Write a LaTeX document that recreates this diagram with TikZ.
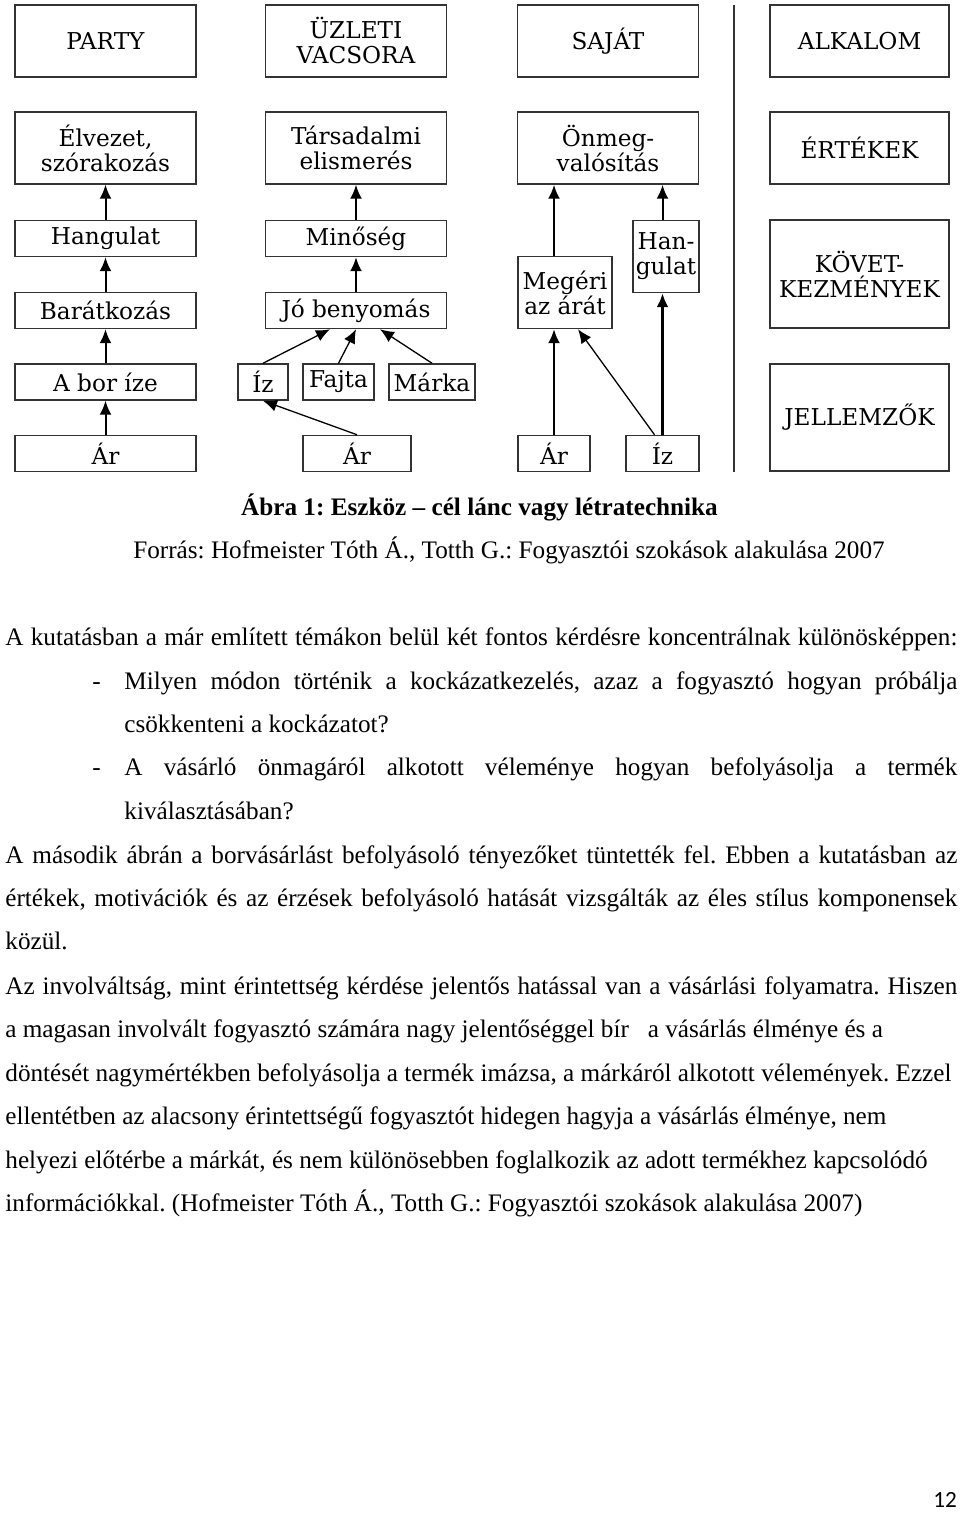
\documentclass[tikz,border=0pt]{standalone}
\usepackage{fontspec}
\setmainfont{Liberation Serif}
\newfontfamily\abrabetu{DejaVu Serif}
\newfontfamily\oldalbetu{Carlito}
\usetikzlibrary{arrows.meta}
\frenchspacing
\newcommand{\szoveg}{\fontsize{12.6}{21.75}\selectfont}
\newcommand{\teljes}[1]{\makebox[476pt][s]{#1}}
\newcommand{\behuzott}[1]{\makebox[416.5pt][s]{#1}}

\begin{document}
\begin{tikzpicture}[x=.5pt, y=-.5pt,
  doboz/.style={draw=black!80, line width=.75pt, inner sep=0pt, align=center, font=\fontsize{11.6}{12.5}\selectfont\abrabetu},
  nagy/.style={doboz, minimum width=90.5pt, minimum height=36pt},
  kozep/.style={doboz, minimum width=90.5pt, minimum height=18pt},
  nyil/.style={-{Latex[length=7pt,width=6pt]}, line width=1pt},
  vnyil/.style={-{Latex[length=7pt,width=6pt]}, line width=.65pt},
  sor/.style={inner sep=0pt, font=\szoveg, anchor=base west}]
  \useasboundingbox (0,0) rectangle (960,1513);
  % party
  \node[nagy] (party) at (105.5,41) {PARTY};
  \node[nagy] (elvezet) at (105.5,148) {Élvezet,\\szórakozás};
  \node[kozep] (hangulat) at (105.5,238.5) {Hangulat};
  \node[kozep] (barat) at (105.5,310.5) {Barátkozás};
  \node[kozep] (borize) at (105.5,382) {A bor íze};
  \node[kozep] (arA) at (105.5,453.5) {Ár};
  % uzleti vacsora
  \node[nagy] (uzleti) at (356,41) {ÜZLETI\\VACSORA};
  \node[nagy] (tarsad) at (356,148) {Társadalmi\\elismerés};
  \node[kozep] (minoseg) at (356,238.5) {Minőség};
  \node[kozep] (jobeny) at (356,310.5) {Jó benyomás};
  \node[doboz, minimum width=25pt, minimum height=18pt] (izB) at (263,382) {Íz};
  \node[doboz, minimum width=35.5pt, minimum height=18pt] (fajta) at (338.5,382) {Fajta};
  \node[doboz, minimum width=43pt, minimum height=18pt] (marka) at (432,382) {Márka};
  \node[doboz, minimum width=54pt, minimum height=18pt] (arB) at (357,453.5) {Ár};
  % sajat
  \node[nagy] (sajat) at (608,41) {SAJÁT};
  \node[nagy] (onmeg) at (608,148) {Önmeg-\\valósítás};
  \node[doboz, minimum width=47pt, minimum height=36pt] (megeri) at (565,292.5) {Megéri\\az árát};
  \node[doboz, minimum width=33pt, minimum height=36pt] (hangC) at (666,256.5) {Han-\\gulat};
  \node[doboz, minimum width=36pt, minimum height=18pt] (arC) at (554,453.5) {Ár};
  \node[doboz, minimum width=36.5pt, minimum height=18pt] (izC) at (662.5,453.5) {Íz};
  % szintek
  \node[nagy, minimum width=89.5pt] (alkalom) at (859.5,41) {ALKALOM};
  \node[nagy, minimum width=89.5pt] (ertekek) at (859.5,148) {ÉRTÉKEK};
  \node[doboz, minimum width=89.5pt, minimum height=54pt] (kovet) at (859.5,274) {KÖVET-\\KEZMÉNYEK};
  \node[doboz, minimum width=89.5pt, minimum height=53.5pt] (jellem) at (859.5,417.5) {JELLEMZŐK};
  \draw[black!80, line width=.75pt] (734,5) -- (734,472); % valaszto
  % nyilak
  \draw[nyil] (hangulat) -- (elvezet);
  \draw[nyil] (barat) -- (hangulat);
  \draw[nyil] (borize) -- (barat);
  \draw[nyil] (arA) -- (borize);
  \draw[nyil] (minoseg) -- (tarsad);
  \draw[nyil] (jobeny) -- (minoseg);
  \draw[vnyil] (izB.north) -- ([xshift=-13pt]jobeny.south);
  \draw[vnyil] (fajta.north) -- (jobeny.south);
  \draw[vnyil] (marka.north) -- ([xshift=12pt]jobeny.south);
  \draw[vnyil] (arB.north) -- (izB.south);
  \draw[nyil] (arC.north |- megeri.north) -- (arC.north |- onmeg.south);
  \draw[nyil] (izC.north |- hangC.north) -- (izC.north |- onmeg.south);
  \draw[nyil] (arC.north) -- (arC.north |- megeri.south);
  \draw[vnyil] ([xshift=-4pt]izC.north) -- ([xshift=6.5pt]megeri.south);
  \draw[nyil, line width=1.7pt] (izC.north) -- (izC.north |- hangC.south);
  % szoveg
  \node[sor, anchor=base, font=\szoveg\bfseries] (abra) at (479.5,515) {Ábra 1: Eszköz – cél lánc vagy létratechnika};
  \node[sor, anchor=base] (forras) at (509,558) {Forrás: Hofmeister Tóth Á., Totth G.: Fogyasztói szokások alakulása 2007};
  \node[sor] (p1) at (5,645) {\teljes{A kutatásban a már említett témákon belül két fontos kérdésre koncentrálnak különösképpen:}};
  \node[sor] (kj1) at (92,689) {-};
  \node[sor] (l1) at (124,689) {\behuzott{Milyen módon történik a kockázatkezelés, azaz a fogyasztó hogyan próbálja}};
  \node[sor] (l2) at (124,732) {csökkenteni a kockázatot?};
  \node[sor] (kj2) at (92,775) {-};
  \node[sor] (l3) at (124,775) {\behuzott{A vásárló önmagáról alkotott véleménye hogyan befolyásolja a termék}};
  \node[sor] (l4) at (124,819) {kiválasztásában?};
  \node[sor] (p2a) at (5,863) {\teljes{A második ábrán a borvásárlást befolyásoló tényezőket tüntették fel. Ebben a kutatásban az}};
  \node[sor] (p2b) at (5,906) {\teljes{értékek, motivációk és az érzések befolyásoló hatását vizsgálták az éles stílus komponensek}};
  \node[sor] (p2c) at (5,949) {közül.};
  \node[sor] (p3a) at (5,994) {\teljes{Az involváltság, mint érintettség kérdése jelentős hatással van a vásárlási folyamatra. Hiszen}};
  \node[sor] (p3b) at (5,1037) {a magasan involvált fogyasztó számára nagy jelentőséggel bír\ \ \ a vásárlás élménye és a};
  \node[sor] (p3c) at (5,1081) {döntését nagymértékben befolyásolja a termék imázsa, a márkáról alkotott vélemények. Ezzel};
  \node[sor] (p3d) at (5,1124) {ellentétben az alacsony érintettségű fogyasztót hidegen hagyja a vásárlás élménye, nem};
  \node[sor] (p3e) at (5,1168) {helyezi előtérbe a márkát, és nem különösebben foglalkozik az adott termékhez kapcsolódó};
  \node[sor] (p3f) at (5,1211) {információkkal. (Hofmeister Tóth Á., Totth G.: Fogyasztói szokások alakulása 2007)};
  \node[font=\fontsize{11.6}{14}\selectfont\oldalbetu] (oldal) at (945,1500) {12};
\end{tikzpicture}
\end{document}
